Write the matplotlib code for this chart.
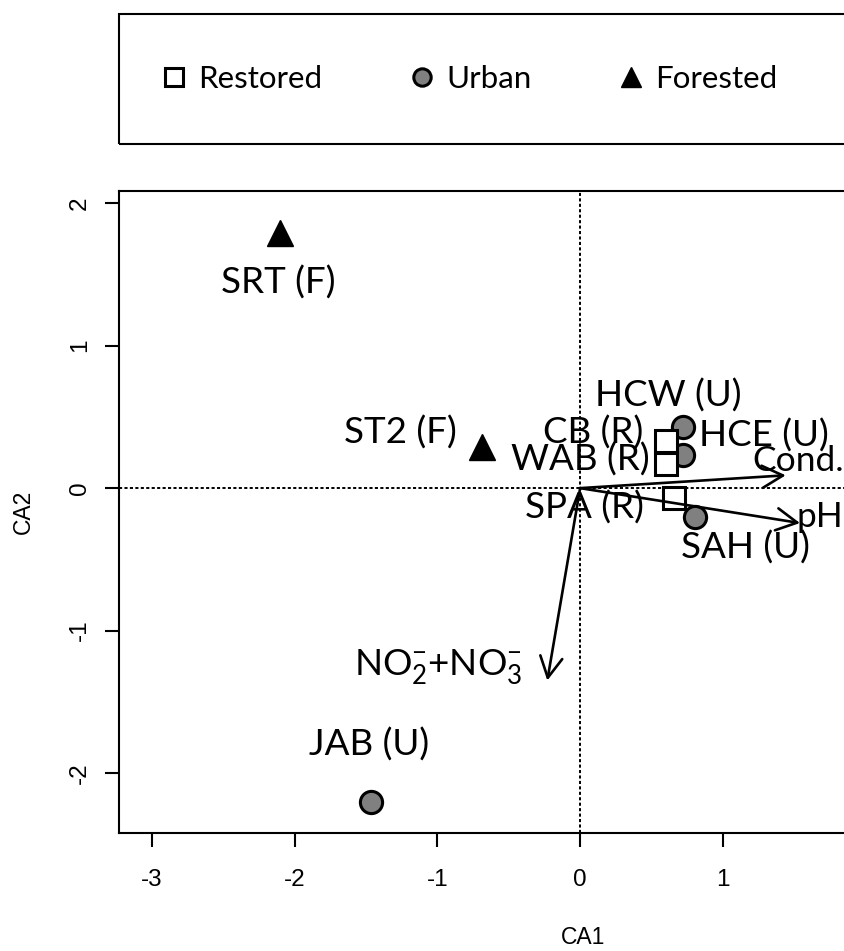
import matplotlib
matplotlib.use("Agg")
import matplotlib.pyplot as plt
from matplotlib.lines import Line2D
from matplotlib.patches import Rectangle
from matplotlib.font_manager import FontProperties

# ---- site scores (CA1, CA2) ----
sites = ["SRT (F)", "ST2 (F)", "JAB (U)", "HCW (U)", "HCE (U)", "SAH (U)",
         "CB (R)", "WAB (R)", "SPA (R)"]
site_type = ["F", "F", "U", "U", "U", "U", "R", "R", "R"]
ca1 = [-2.10, -0.69, -1.465, 0.72, 0.72, 0.805, 0.60, 0.60, 0.655]
ca2 = [1.79, 0.29, -2.20, 0.43, 0.23, -0.205, 0.33, 0.17, -0.07]

# ---- environmental vectors ----
env_vars = ["Cond.", "pH", r"NO$_2^{-}$+NO$_3^{-}$"]
env_ca1 = [1.44, 1.54, -0.23]
env_ca2 = [0.09, -0.245, -1.35]

# ---- axes ----
x_ticks = [-3, -2, -1, 0, 1]
y_ticks = [-2, -1, 0, 1, 2]
type_order = ["R", "U", "F"]
type_names = {"R": "Restored", "U": "Urban", "F": "Forested"}

# marker styles per land-use type
styles = {
    "R": dict(marker="s", mfc="white", mec="black", ms=16.3, mew=2.2),
    "U": dict(marker="o", mfc="#808080", mec="black", ms=16, mew=2.2),
    "F": dict(marker="^", mfc="black", mec="black", ms=18.5, mew=1.0),
}
legend_ms = {"R": 12.5, "U": 12.5, "F": 15}

# label placement relative to each point: (dx px, dy px downward, ha)
site_label_pos = {
    "SRT (F)": (-2, 50, "center"),
    "ST2 (F)": (-25, -14, "right"),
    "JAB (U)": (-2, -57, "center"),
    "HCW (U)": (-15, -31, "center"),
    "HCE (U)": (16, -20, "left"),
    "SAH (U)": (50, 30, "center"),
    "CB (R)": (-23, -9, "right"),
    "WAB (R)": (-16, -4, "right"),
    "SPA (R)": (-30, 9, "right"),
}
env_label_pos = [(-33, -14, "left"), (-4, -6, "left"), (-25, -13, "right")]
env_label_size = [25.5, 25.5, 26.5]

plt.rcParams["mathtext.fontset"] = "custom"
plt.rcParams["mathtext.rm"] = "Lato"
plt.rcParams["mathtext.it"] = "Lato:italic"
plt.rcParams["mathtext.bf"] = "Lato:bold"

W, H = 844, 951
PX = 72.0 / 100.0  # points per pixel at dpi 100

fig = plt.figure(figsize=(W / 100, H / 100), dpi=100)
ax = fig.add_axes([119 / W, (H - 833) / H, 928 / W, 642 / H])
ax.set_xlim(-3.23, 3.27)
ax.set_ylim(-2.42, 2.085)

for s in ax.spines.values():
    s.set_linewidth(1.5)

tick_font = "Liberation Sans"
ax.set_xticks(x_ticks)
ax.set_yticks(y_ticks)
ax.set_xticklabels([str(v) for v in x_ticks], family=tick_font, fontsize=17.5)
ax.set_yticklabels([str(v) for v in y_ticks], family=tick_font, fontsize=17.5,
                   rotation=90, va="center")
ax.tick_params(axis="both", direction="out", length=10, width=1.5)
ax.tick_params(axis="x", pad=16)
ax.tick_params(axis="y", pad=10)

ax.set_xlabel("CA1", family=tick_font, fontsize=16.5)
ax.set_ylabel("CA2", family=tick_font, fontsize=16.5)
ax.xaxis.set_label_coords((583 - 119) / 928, (833 - 937) / 642)
ax.xaxis.label.set_va("center")
ax.yaxis.set_label_coords((23 - 119) / 928, 0.5)
ax.yaxis.label.set_va("center")

# reference lines through the origin
ax.axhline(0, color="black", lw=1.4, ls=(0, (1.6, 1.2)), zorder=1)
ax.axvline(0, color="black", lw=1.4, ls=(0, (1.6, 1.2)), zorder=1)

label_font = dict(family="Lato", fontsize=26.5)

# site points
for name, t, x, y in zip(sites, site_type, ca1, ca2):
    ax.plot([x], [y], ls="", zorder=3, **styles[t])
for name, x, y in zip(sites, ca1, ca2):
    dx, dy, ha = site_label_pos[name]
    ax.annotate(name, (x, y), xytext=(dx * PX, -dy * PX),
                textcoords="offset points", ha=ha, va="center",
                zorder=4, **label_font)

# environmental arrows
for name, x, y, (dx, dy, ha), fs in zip(env_vars, env_ca1, env_ca2,
                                        env_label_pos, env_label_size):
    ax.annotate("", xy=(x, y), xytext=(0, 0),
                arrowprops=dict(arrowstyle="->,head_length=0.75,head_width=0.4",
                                lw=1.9, color="black", shrinkA=0, shrinkB=0,
                                mutation_scale=20),
                zorder=5)
    ax.annotate(name, (x, y), xytext=(dx * PX, -dy * PX),
                textcoords="offset points", ha=ha, va="center",
                zorder=4, family="Lato", fontsize=fs)

# legend box across the top
fig.add_artist(Rectangle((119 / W, (H - 144) / H), 1.0, 130 / H,
                         transform=fig.transFigure, fill=False,
                         ec="black", lw=1.5))
handles = []
for t in type_order:
    st = dict(styles[t])
    st["ms"] = legend_ms[t]
    handles.append(Line2D([], [], ls="", **st))
labels = [type_names[t] for t in type_order]
fig.legend(handles, labels, loc="center left",
           bbox_to_anchor=(158.7 / W, (H - 79) / H), ncol=3, frameon=False,
           prop=FontProperties(family="Lato", size=22.5), handlelength=1,
           handletextpad=0.26, columnspacing=2.7, borderpad=0,
           borderaxespad=0, numpoints=1)

fig.savefig("out.png", dpi=100)
